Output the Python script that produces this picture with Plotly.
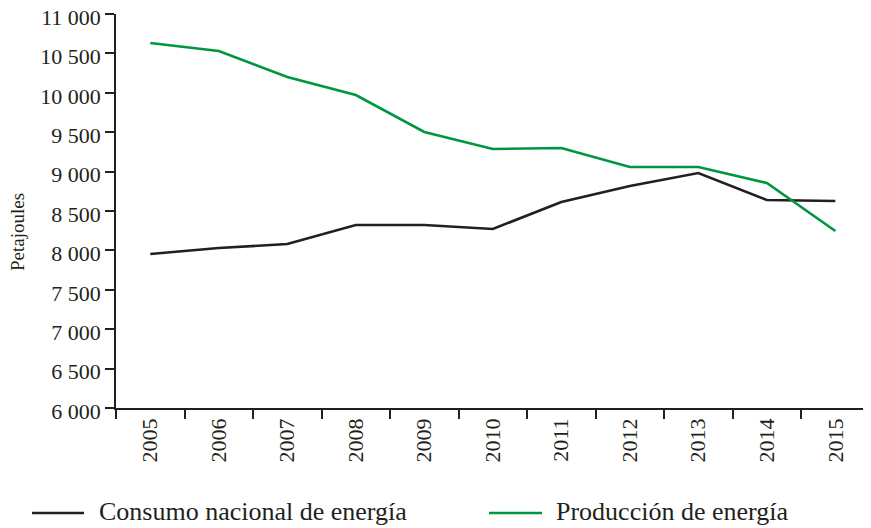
import plotly.graph_objects as go

years = ["2005", "2006", "2007", "2008", "2009", "2010", "2011", "2012", "2013", "2014", "2015"]
consumo = [7954, 8030, 8081, 8322, 8322, 8272, 8614, 8817, 8982, 8640, 8627]
produccion = [10632, 10530, 10200, 9972, 9503, 9287, 9300, 9058, 9058, 8855, 8246]
names = ["Consumo nacional de energía", "Producción de energía"]
colors = ["#231f20", "#00963f"]
y_title = "Petajoules"

FONT = "Liberation Serif"
OFF = 8  # page body margin offset
W, H = 871 - OFF, 528 - OFF
L, R, T, B = 116 - OFF, 0, 14 - OFF, 120
pw = W - L - R
ph = H - T - B

fig = go.Figure()
for name, vals, col in zip(names, [consumo, produccion], colors):
    fig.add_trace(go.Scatter(x=years, y=vals, mode="lines", name=name,
                             line=dict(color=col, width=2.6), showlegend=False))

# positions given in screen pixels
def px_x(p):
    return (p - OFF - L) / pw

def px_y(p):
    return 1 - (p - OFF - T) / ph

# manual legend
leg = [(32, 84, 97), (489, 542, 554)]
for (x0, x1, xt), name, col in zip(leg, names, colors):
    fig.add_shape(type="line", xref="paper", yref="paper",
                  x0=px_x(x0), x1=px_x(x1), y0=px_y(513), y1=px_y(513),
                  line=dict(color=col, width=2.6))
    fig.add_annotation(xref="paper", yref="paper", x=px_x(xt), y=px_y(511),
                       text=name, showarrow=False, xanchor="left", yanchor="middle",
                       font=dict(family=FONT, size=26, color="#231f20"))

# y-axis title
fig.add_annotation(xref="paper", yref="paper", x=px_x(17), y=px_y(232),
                   text=y_title, showarrow=False, textangle=-90,
                   xanchor="center", yanchor="middle",
                   font=dict(family=FONT, size=19, color="#231f20"))

fig.update_layout(
    width=W, height=H,
    margin=dict(l=L, r=R, t=T, b=B),
    plot_bgcolor="white", paper_bgcolor="white",
    separators=", ",
    font=dict(family=FONT, size=21, color="#231f20"),
    xaxis=dict(type="category", range=[-0.5, 10.52], tickson="boundaries",
               ticks="outside", ticklen=9, tickwidth=1.5, tickcolor="#231f20",
               showline=True, linecolor="#231f20", linewidth=1.5, automargin=False,
               showgrid=False, tickangle=-90, tickfont=dict(size=22)),
    yaxis=dict(range=[6000, 11000], dtick=500, tick0=6000, tickformat=",d",
               ticks="outside", ticklen=9, tickwidth=1.5, tickcolor="#231f20",
               showline=True, linecolor="#231f20", linewidth=1.5, automargin=False,
               ticklabeloverflow="allow", ticklabelshift=3,
               showgrid=False, zeroline=False, tickfont=dict(size=22)),
)

fig.write_html("out.html")
